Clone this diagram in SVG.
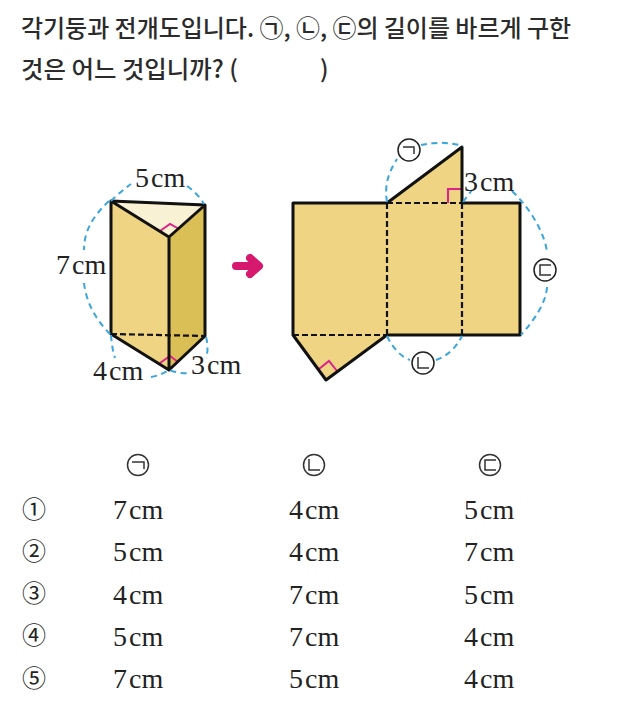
<svg xmlns="http://www.w3.org/2000/svg" width="622" height="704" viewBox="0 0 622 704">
<style>
.q{font-family:"Noto Sans CJK KR","Noto Sans",sans-serif;font-size:24px;font-weight:500;fill:#2b2b2b}
.m{font-family:"Liberation Serif","Noto Serif",serif;font-size:28px;word-spacing:-5px;fill:#222}
.c{font-family:"Noto Sans CJK KR",sans-serif;font-size:24px;fill:#222;text-anchor:middle}
.e{fill:none;stroke:#111;stroke-width:3;stroke-linejoin:round;stroke-linecap:round}
.d{fill:none;stroke:#111;stroke-width:2.2;stroke-dasharray:6 3}
.a{fill:none;stroke:#3aa6dc;stroke-width:2;stroke-dasharray:6 4.5}
.r{fill:none;stroke:#e0218a;stroke-width:2}
.l{fill:#fff;stroke:#222;stroke-width:1.5}
.g{fill:none;stroke:#333;stroke-width:1.5}
</style>
<g id="question">
<text class="q" x="21" y="37" textLength="550" lengthAdjust="spacingAndGlyphs">각기둥과 전개도입니다. ㉠, ㉡, ㉢의 길이를 바르게 구한</text>
<text class="q" x="21" y="78" textLength="217" lengthAdjust="spacingAndGlyphs">것은 어느 것입니까? (</text>
<text class="q" x="320" y="78">)</text>
</g>
<g id="prism">
<path d="M111 201V334L169 370V237Z" fill="#eed483"/>
<path d="M169 237V370L205 336V205Z" fill="#d9bf55"/>
<path d="M111 201L205 205L169 237Z" fill="#f9f1d3"/>
<path class="r" d="M160 231L170 224L179 229"/>
<path class="r" d="M160 363L170 356L178 362"/>
<path class="e" d="M111 201L205 205L169 237ZM111 201V334L169 370V237M205 205V336L169 370"/>
<path class="d" d="M111 334L205 336"/>
</g>
<g id="arrow">
<path d="M236 266H257M250 258L259 266L250 274" fill="none" stroke="#d6196e" stroke-width="8" stroke-linecap="round" stroke-linejoin="round"/>
</g>
<g id="net">
<path d="M293 203H387L462 147V203H520V335H387L326 380L293 335Z" fill="#eed483"/>
<path class="r" d="M448 203V189H462"/>
<path class="r" d="M319 369L329 361L337 371"/>
<path class="e" d="M387 203H293V335L326 380L387 335H520V203H462V147L387 203"/>
<path class="d" d="M293 335H387M387 203V335M462 203V335M387 203H462"/>
</g>
<g id="connectors">
<path class="a" d="M111 201C117 195 124 189 131 184"/>
<path class="a" d="M187 186C194 191 200 197 204 204"/>
<path class="a" d="M109 201C92 217 84 232 84 250"/>
<path class="a" d="M84 283C86 302 96 320 110 334"/>
<path class="a" d="M111 335C112 346 113 352 115 358"/>
<path class="a" d="M151 377C158 376 164 373 169 370C175 372 182 374 191 373"/>
<path class="a" d="M206 337C208 344 208 352 206 358"/>
<path class="a" d="M387 202C384 184 389 172 397 159"/>
<path class="a" d="M421 145C435 142 450 142 463 146"/>
<path class="a" d="M463 202L472 190"/>
<path class="a" d="M512 191C534 212 546 238 547 253"/>
<path class="a" d="M547 287C546 302 536 318 521 335"/>
<path class="a" d="M387 336C393 349 403 358 410 360"/>
<path class="a" d="M436 360C447 356 456 348 462 336"/>
</g>
<g id="labels">
<text class="m" x="135" y="187">5 cm</text>
<text class="m" x="56" y="274">7 cm</text>
<text class="m" x="93" y="380">4 cm</text>
<text class="m" x="191" y="374">3 cm</text>
<text class="m" x="464" y="191">3 cm</text>
<g id="mark-1"><circle class="l" cx="409" cy="150" r="11"/><path class="g" d="M403 147H414V154"/></g>
<g id="mark-2"><circle class="l" cx="423" cy="363" r="11"/><path class="g" d="M418 357V368H429"/></g>
<g id="mark-3"><circle class="l" cx="545" cy="270" r="11"/><path class="g" d="M551 265H540V275H551"/></g>
</g>
<g id="table-header">
<g id="head-1"><circle class="g" cx="138" cy="465" r="10.5"/><path class="g" d="M132 462H144V469"/></g>
<g id="head-2"><circle class="g" cx="314" cy="465" r="10.5"/><path class="g" d="M309 459V470H320"/></g>
<g id="head-3"><circle class="g" cx="490" cy="465" r="10.5"/><path class="g" d="M496 460H485V470H496"/></g>
</g>
<g id="choices">
<text class="c" x="34" y="518">①</text><text class="m" x="113" y="519">7 cm</text><text class="m" x="289" y="519">4 cm</text><text class="m" x="464" y="519">5 cm</text>
<text class="c" x="34" y="560">②</text><text class="m" x="113" y="561">5 cm</text><text class="m" x="289" y="561">4 cm</text><text class="m" x="464" y="561">7 cm</text>
<text class="c" x="34" y="602">③</text><text class="m" x="113" y="604">4 cm</text><text class="m" x="289" y="604">7 cm</text><text class="m" x="464" y="604">5 cm</text>
<text class="c" x="34" y="644">④</text><text class="m" x="113" y="646">5 cm</text><text class="m" x="289" y="646">7 cm</text><text class="m" x="464" y="646">4 cm</text>
<text class="c" x="34" y="687">⑤</text><text class="m" x="113" y="688">7 cm</text><text class="m" x="289" y="688">5 cm</text><text class="m" x="464" y="688">4 cm</text>
</g>
</svg>
